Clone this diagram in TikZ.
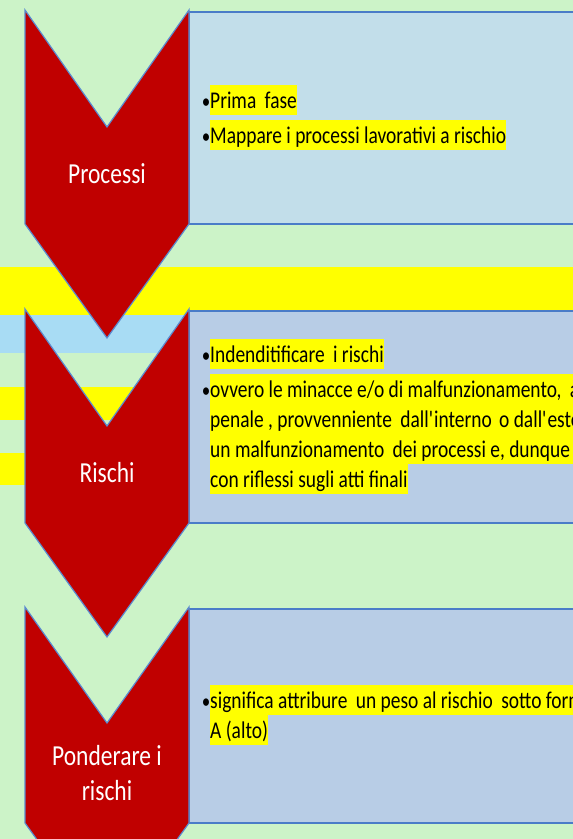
\documentclass[tikz,border=0pt]{standalone}
\usepackage{fontspec}
\setmainfont{Carlito}[FakeStretch=0.81]
\definecolor{bggreen}{HTML}{CCF3C8}
\definecolor{stripey}{HTML}{FFFF00}
\definecolor{stripeb}{HTML}{A8DCF4}
\definecolor{chevred}{HTML}{C00000}
\definecolor{chevedge}{HTML}{5B8BD0}
\definecolor{boxedge}{HTML}{4A7CC8}
\definecolor{boxa}{HTML}{C2DEEA}
\definecolor{boxb}{HTML}{B8CDE6}
\definecolor{hl}{HTML}{FFFF00}
\begin{document}
\begin{tikzpicture}[x=1pt,y=-1pt,
  chev/.style={fill=chevred, draw=chevedge, line width=1.2pt, line join=miter},
  box/.style={draw=boxedge, line width=1.6pt},
  lbl/.style={text=white, font=\fontsize{29}{35}\selectfont, align=center, anchor=base, inner sep=0pt},
  itm/.style={anchor=base west, fill=hl, inner xsep=0pt, inner ysep=1pt, text height=22pt, text depth=6pt, font=\fontsize{24}{29}\selectfont},
  itmfull/.style={itm, text width=420pt, align=flush left},
  bul/.style={anchor=base east, inner sep=0pt, font=\fontsize{21}{25}\selectfont, xshift=0.5pt}]
\useasboundingbox (0,0) rectangle (573,839);
\clip (0,0) rectangle (573,839);
% background and stripes
\fill[bggreen] (0,0) rectangle (573,839);
\fill[stripey] (0,267) rectangle (573,315);
\fill[stripeb] (0,315) rectangle (573,353);
\fill[stripey] (0,387) rectangle (573,420);
\fill[stripey] (0,453) rectangle (573,485);
% boxes
\draw[box, fill=boxa] (189,12) rectangle (580,224);
\draw[box, fill=boxb] (189,311) rectangle (580,523);
\draw[box, fill=boxb] (189,609) rectangle (580,823);
% chevrons
\draw[chev] (25,10) -- (107,127) -- (189,10) -- (189,224) -- (107,338) -- (25,224) -- cycle;
\draw[chev] (25,309) -- (107,426) -- (189,309) -- (189,523) -- (107,637) -- (25,523) -- cycle;
\draw[chev] (25,607) -- (107,723) -- (189,607) -- (189,823) -- (107,937) -- (25,823) -- cycle;
% labels
\node[lbl] (l1) at (107,183) {Processi};
\node[lbl] (l2) at (107,482) {Rischi};
\node[lbl] (l3a) at (107,765) {Ponderare i};
\node[lbl] (l3b) at (107,800) {rischi};
% box 1
\node[itm] (t1a) at (210,108) {Prima\hspace{4pt} fase};
\node[bul] (b1a) at (210,108) {•};
\node[itm] (t1b) at (210,143) {Mappare i processi lavorativi a rischio};
\node[bul] (b1b) at (210,143) {•};
% box 2
\node[itm] (t2a) at (210,362) {Indenditificare\hspace{4pt} i rischi};
\node[bul] (b2a) at (210,362) {•};
\node[itmfull] (t2b) at (210,397) {ovvero le minacce e/o di malfunzionamento,\hspace{4pt} a};
\node[bul] (b2b) at (210,397) {•};
\node[itmfull] (t2c) at (210,427) {penale , provvenniente\hspace{4pt} dall\textquotesingle interno\hspace{3pt} o dall\textquotesingle este};
\node[itmfull] (t2d) at (210,457) {un malfunzionamento\hspace{4pt} dei processi e, dunque};
\node[itm] (t2e) at (210,487) {con riflessi sugli atti finali};
% box 3
\node[itmfull] (t3a) at (210,708) {significa attribure\hspace{4pt} un peso al rischio\hspace{4pt} sotto form};
\node[bul] (b3a) at (210,708) {•};
\node[itm] (t3b) at (210,738) {A (alto)};
\end{tikzpicture}
\end{document}
